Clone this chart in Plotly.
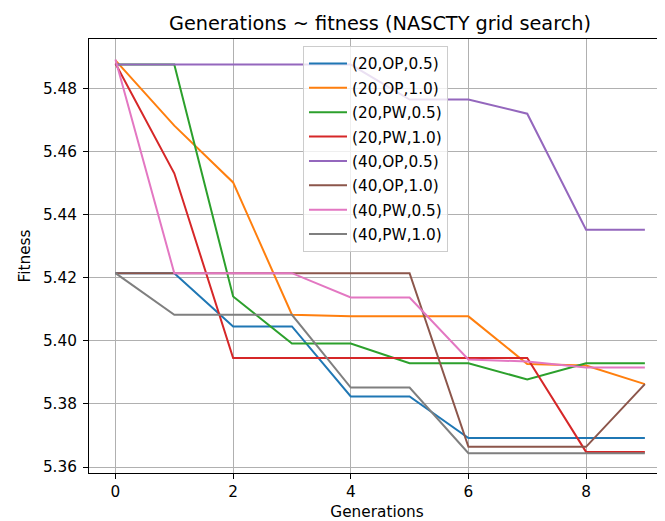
import plotly.graph_objects as go

generations = [0, 1, 2, 3, 4, 5, 6, 7, 8, 9]

labels = ["(20,OP,0.5)", "(20,OP,1.0)", "(20,PW,0.5)", "(20,PW,1.0)",
          "(40,OP,0.5)", "(40,OP,1.0)", "(40,PW,0.5)", "(40,PW,1.0)"]

fit_20_op_05 = [5.4215, 5.4215, 5.4046, 5.4046, 5.3824, 5.3824, 5.3692, 5.3692, 5.3692, 5.3692]
fit_20_op_10 = [5.4890, 5.4683, 5.4503, 5.4083, 5.4078, 5.4078, 5.4078, 5.3927, 5.3922, 5.3863]
fit_20_pw_05 = [5.4877, 5.4877, 5.4141, 5.3992, 5.3992, 5.3929, 5.3929, 5.3878, 5.3929, 5.3929]
fit_20_pw_10 = [5.4880, 5.4532, 5.3946, 5.3946, 5.3946, 5.3946, 5.3946, 5.3946, 5.3648, 5.3648]
fit_40_op_05 = [5.4877, 5.4877, 5.4877, 5.4877, 5.4877, 5.4766, 5.4766, 5.4721, 5.4353, 5.4353]
fit_40_op_10 = [5.4215, 5.4215, 5.4215, 5.4215, 5.4215, 5.4215, 5.3664, 5.3664, 5.3664, 5.3863]
fit_40_pw_05 = [5.4893, 5.4215, 5.4215, 5.4215, 5.4138, 5.4138, 5.3941, 5.3935, 5.3916, 5.3916]
fit_40_pw_10 = [5.4215, 5.4083, 5.4083, 5.4083, 5.3852, 5.3852, 5.3644, 5.3644, 5.3644, 5.3644]

series = [fit_20_op_05, fit_20_op_10, fit_20_pw_05, fit_20_pw_10,
          fit_40_op_05, fit_40_op_10, fit_40_pw_05, fit_40_pw_10]

colors = ["#1f77b4", "#ff7f0e", "#2ca02c", "#d62728",
          "#9467bd", "#8c564b", "#e377c2", "#7f7f7f"]

x_ticks = [0, 2, 4, 6, 8]
y_ticks = [5.36, 5.38, 5.40, 5.42, 5.44, 5.46, 5.48]

fig = go.Figure()
for lab, ys, c in zip(labels, series, colors):
    fig.add_trace(go.Scatter(x=generations, y=ys, mode="lines", name=lab,
                             legendgroup=lab,
                             line=dict(color=c, width=2)))

font = "DejaVu Sans"
fs = 15.3
W, H = 657, 513
fig.update_layout(
    width=W, height=H,
    margin=dict(l=81, r=0, t=31, b=48, autoexpand=False),
    paper_bgcolor="white", plot_bgcolor="white",
    font=dict(family=font, size=fs, color="#000000"),
    title=dict(text="Generations ~ fitness (NASCTY grid search)",
               x=372 / W, xref="container", xanchor="center",
               y=1 - 15 / H, yref="container", yanchor="middle",
               font=dict(family=font, size=19.3, color="#000000")),
    showlegend=True,
    legend=dict(x=(295 - 81) / 576, y=0.984, xanchor="left", yanchor="top",
                bgcolor="rgba(255,255,255,0.8)", bordercolor="#cccccc", borderwidth=1,
                font=dict(family=font, size=fs, color="#000000"),
                tracegroupgap=1.5, traceorder="grouped", itemwidth=38),
)
fig.update_xaxes(
    range=[-0.45, 9.342], tickvals=x_ticks, ticktext=[str(v) for v in x_ticks],
    showgrid=True, gridcolor="#b0b0b0", gridwidth=1,
    showline=True, linecolor="#000000", linewidth=1, mirror=True,
    ticks="outside", ticklen=5, tickwidth=1, tickcolor="#000000",
    zeroline=False, automargin=False,
    title=dict(text="Generations", standoff=9, font=dict(family=font, size=fs)),
)
fig.update_yaxes(
    range=[5.3581, 5.4958], tickvals=y_ticks, ticktext=[f"{v:.2f}" for v in y_ticks],
    showgrid=True, gridcolor="#b0b0b0", gridwidth=1,
    showline=True, linecolor="#000000", linewidth=1, mirror=False,
    ticks="outside", ticklen=5, tickwidth=1, tickcolor="#000000",
    zeroline=False, automargin=False, ticklabelstandoff=3,
    title=dict(text="Fitness", standoff=8, font=dict(family=font, size=fs)),
)

fig.write_html("out.html")
